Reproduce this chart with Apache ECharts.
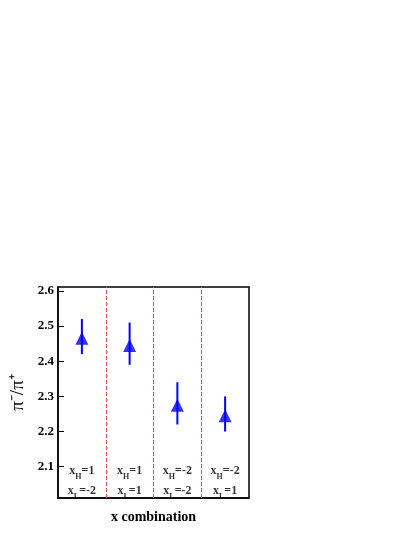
<!DOCTYPE html>
<html>
<head>
<meta charset="utf-8">
<script src="https://cdn.jsdelivr.net/npm/echarts@6/dist/echarts.min.js"></script>
<style>html,body{margin:0;padding:0;background:#fff}#main{width:415px;height:537px}</style>
</head>
<body>
<div id="main"></div>
<script>
// data
var xPos = [0.5, 1.5, 2.5, 3.5];
var ratio = [2.465, 2.445, 2.275, 2.245];
var errLow = [2.42, 2.39, 2.22, 2.20];
var errHigh = [2.52, 2.51, 2.34, 2.30];
var xH = ['1', '1', '-2', '-2'];
var xL = ['-2', '1', '-2', '1'];
var yTicks = [2.1, 2.2, 2.3, 2.4, 2.5, 2.6];
var dividers = [1, 2, 3];

var font = 'Liberation Serif';
var chart = echarts.init(document.getElementById('main'));

var option = {
  animation: false,
  grid: { left: 58, top: 287, width: 191, height: 211 },
  xAxis: {
    type: 'value', min: 0, max: 4,
    axisLine: { show: true, onZero: false, lineStyle: { color: '#000', width: 1.5 } },
    axisTick: { show: false }, axisLabel: { show: false }, splitLine: { show: false },
    name: 'x combination', nameLocation: 'middle', nameGap: 12,
    nameTextStyle: { fontFamily: font, fontWeight: 'bold', fontSize: 14, color: '#000' }
  },
  yAxis: {
    type: 'value', min: 2.011, max: 2.611,
    axisLine: { show: true, onZero: false, lineStyle: { color: '#000', width: 1.5 } },
    axisTick: { show: true, inside: true, length: 6, customValues: yTicks, lineStyle: { color: '#000' } },
    axisLabel: { customValues: yTicks, formatter: function (v) { return v.toFixed(1); },
      fontFamily: font, fontWeight: 'bold', fontSize: 13, color: '#000', margin: 4 },
    splitLine: { show: false },
    name: 'π⁻/π⁺', nameLocation: 'middle', nameGap: 30, nameRotate: 90,
    nameTextStyle: { fontFamily: font, fontSize: 19, color: '#000' }
  },
  graphic: [{ type: 'rect', shape: { x: 58, y: 287, width: 191, height: 211 },
    style: { fill: 'none', stroke: '#000', lineWidth: 1.5 }, silent: true }],
  series: [
    {
      type: 'custom',
      data: xPos.map(function (x, i) { return [x, errLow[i], errHigh[i]]; }),
      renderItem: function (params, api) {
        var a = api.coord([api.value(0), api.value(1)]);
        var b = api.coord([api.value(0), api.value(2)]);
        return { type: 'line', shape: { x1: a[0], y1: a[1], x2: b[0], y2: b[1] },
          style: { stroke: '#0000ff', lineWidth: 2 } };
      },
      z: 2
    },
    {
      type: 'scatter',
      symbol: 'triangle', symbolSize: 13,
      itemStyle: { color: '#0000ff' },
      data: xPos.map(function (x, i) { return [x, ratio[i]]; }),
      markLine: {
        silent: true, symbol: 'none', label: { show: false },
        lineStyle: { color: '#e05050', type: 'dashed', width: 1 },
        data: dividers.map(function (d) { return { xAxis: d }; })
      },
      z: 3
    },
    {
      type: 'scatter',
      symbolSize: 0,
      data: xPos.map(function (x, i) { return [x, 2.06]; }),
      label: {
        show: true, position: 'inside',
        formatter: function (p) {
          var i = p.dataIndex;
          return '{b|x}{s|H}{b|=' + xH[i] + '}\n{b|x}{s|L}{b|=' + xL[i] + '}';
        },
        lineHeight: 20,
        rich: {
          b: { fontFamily: font, fontWeight: 'bold', fontSize: 12, color: '#000', lineHeight: 20 },
          s: { fontFamily: font, fontWeight: 'bold', fontSize: 8, color: '#000', verticalAlign: 'bottom', padding: [6, 0, 0, 0], lineHeight: 20 }
        }
      }
    }
  ]
};
chart.setOption(option);
</script>
</body>
</html>
